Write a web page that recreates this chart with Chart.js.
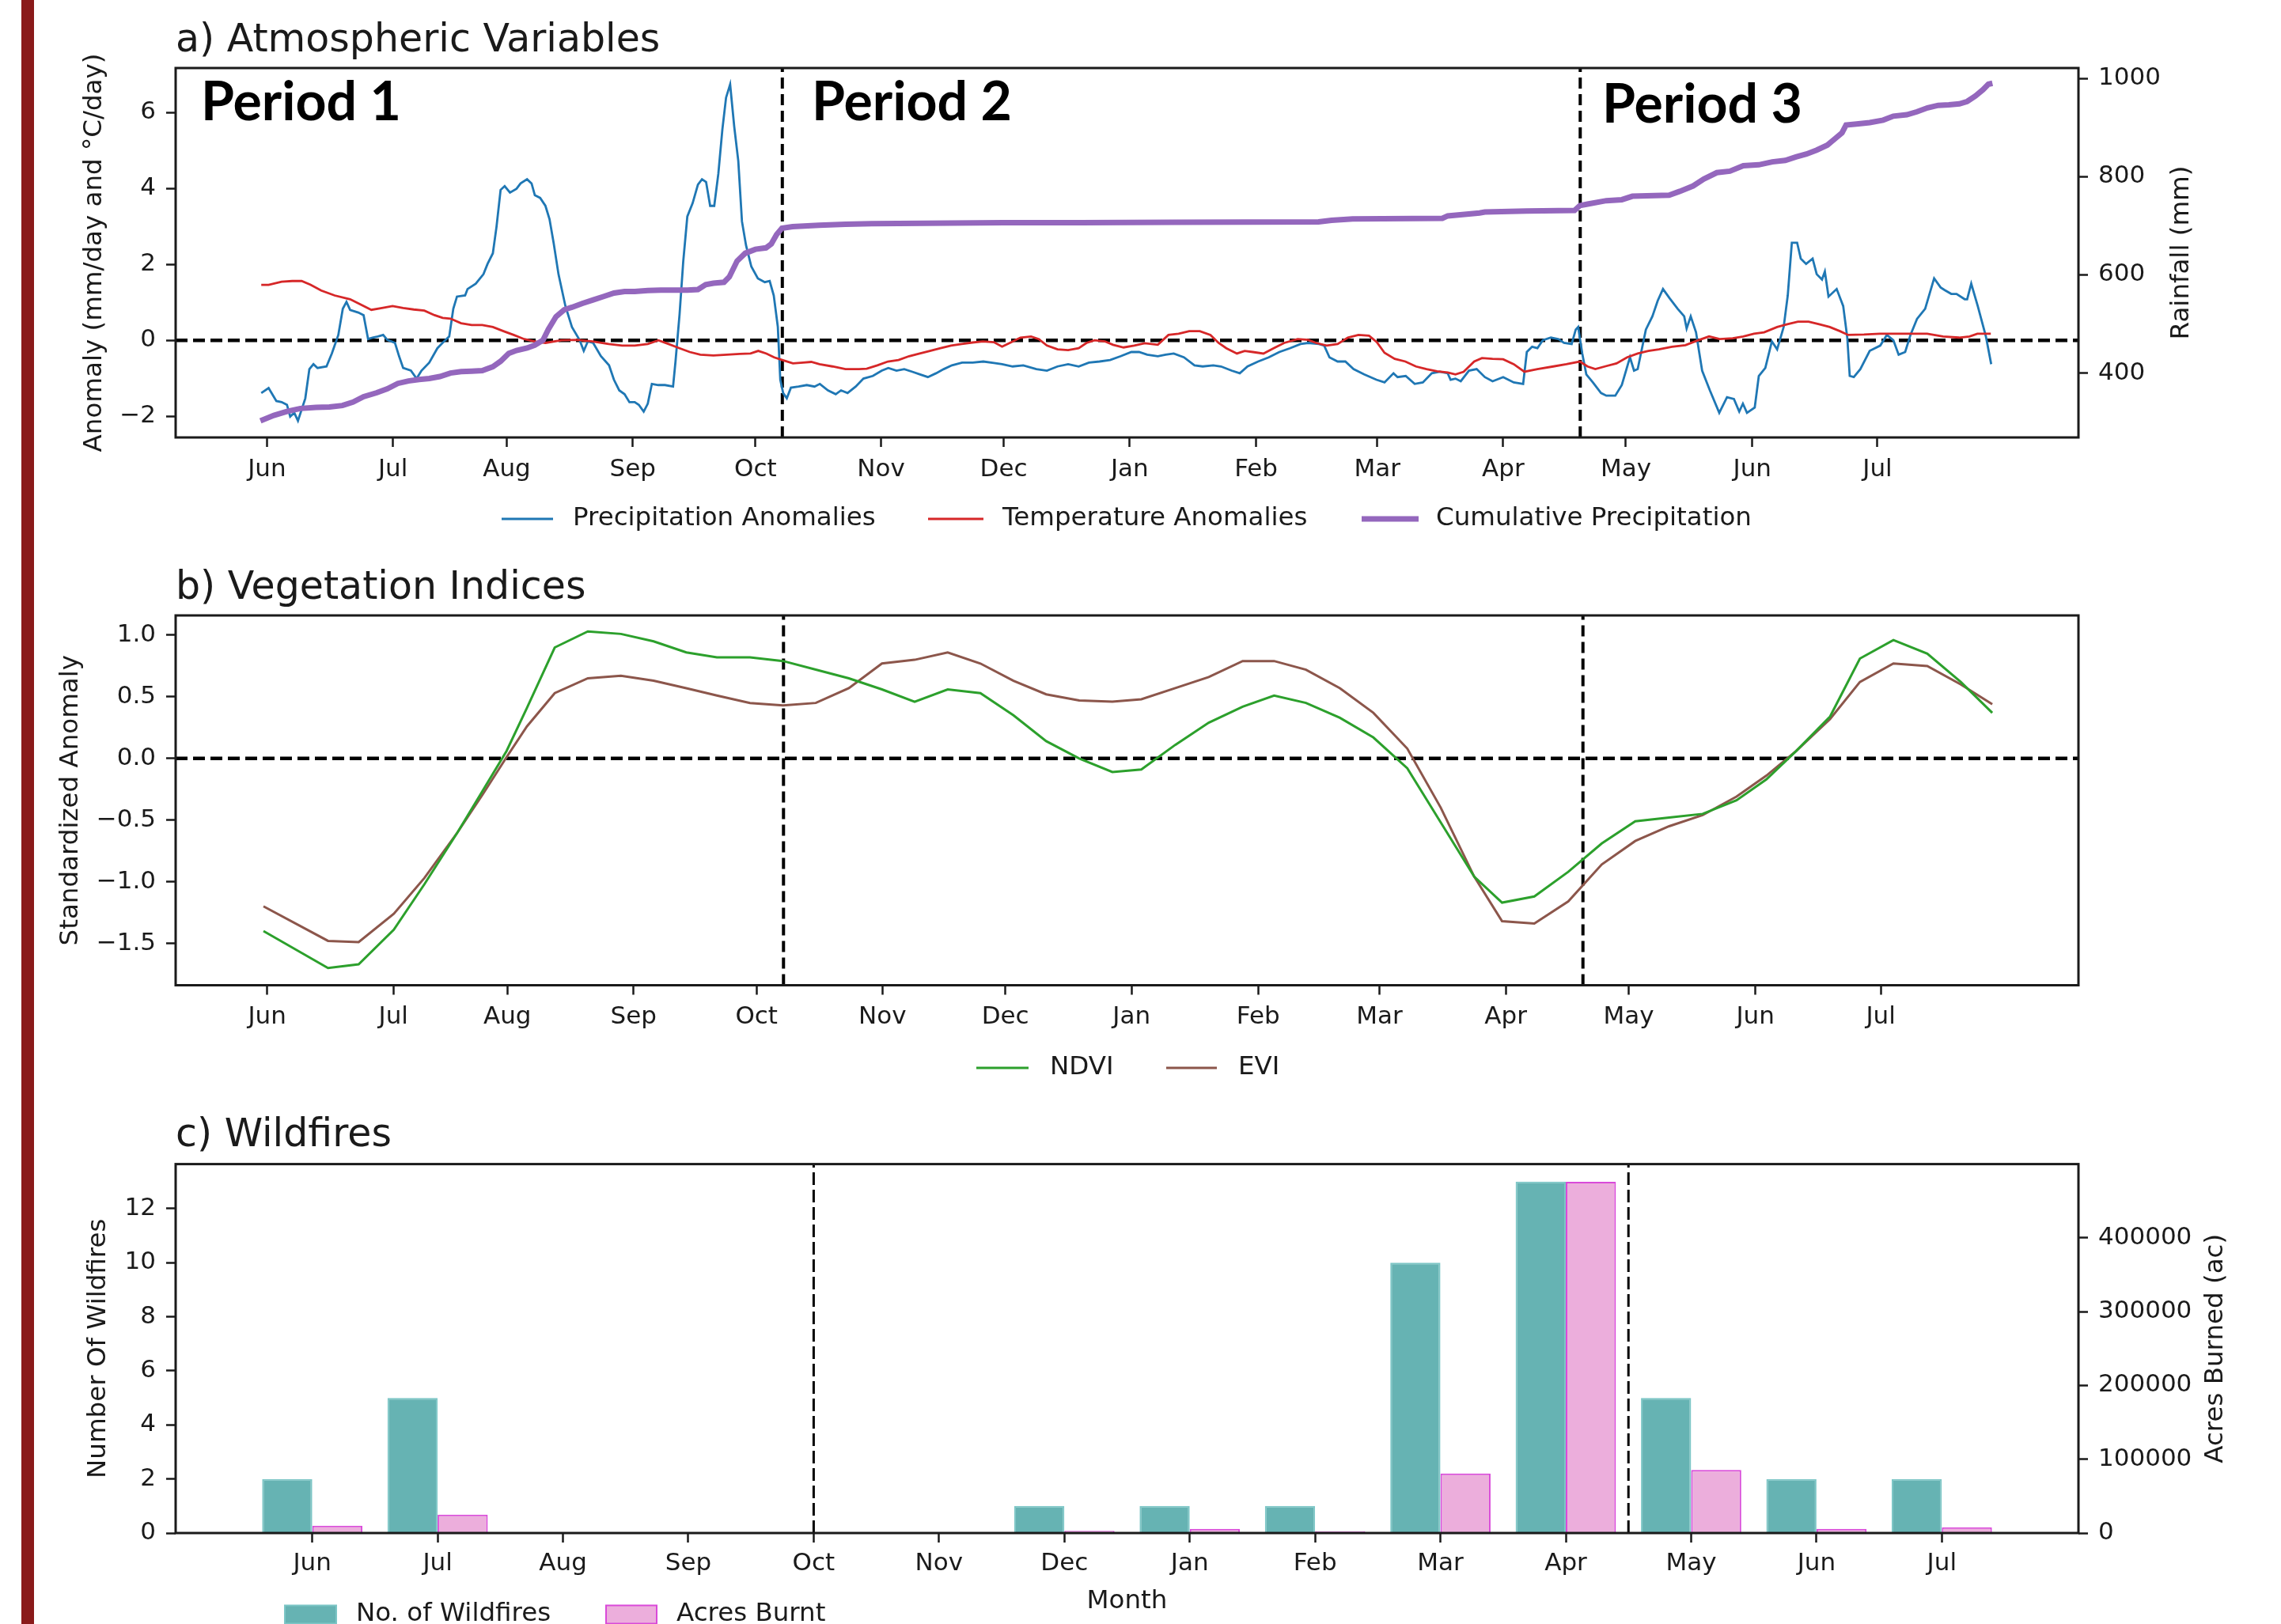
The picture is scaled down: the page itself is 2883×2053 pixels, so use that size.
<!DOCTYPE html>
<html>
<head>
<meta charset="utf-8">
<title>Atmospheric variables, vegetation indices and wildfires</title>
<script src="https://cdn.jsdelivr.net/npm/chart.js@4.4.1/dist/chart.umd.min.js"></script>
<style>
  html, body { margin: 0; padding: 0; background: #fff; }
  #page { position: relative; width: 2883px; height: 2053px; overflow: hidden; background: #fff; }
  #page canvas { position: absolute; left: 0; }
  #edge { position: absolute; left: 27px; top: 0; width: 16px; height: 2053px; background: #8a1a1a; }
</style>
</head>
<body>
<div id="page">
  <div id="edge"></div>
  <canvas id="atm" width="2883" height="700" style="top:0px"></canvas>
  <canvas id="veg" width="2883" height="700" style="top:700px"></canvas>
  <canvas id="fire" width="2883" height="653" style="top:1400px"></canvas>
</div>
<script>
// ---- month axis (day offsets counted from 1 June) ----
const monthNames = ['Jun', 'Jul', 'Aug', 'Sep', 'Oct', 'Nov', 'Dec', 'Jan', 'Feb', 'Mar', 'Apr', 'May', 'Jun', 'Jul'];
const monthTickDays = [0, 30.9, 58.8, 89.7, 119.8, 150.6, 180.7, 211.6, 242.6, 272.3, 303.2, 333.3, 364.3, 395.0];
const periodBreakDays = [126.4, 322.1];

// ---- a) precipitation anomalies (mm/day) ----
const precipDays = [-1.4, 0.4, 2.3, 3.6, 4.9, 5.7, 6.7, 7.6, 9.4, 10.4, 11.4, 12.4, 14.6, 15.9, 17.5, 18.6, 19.5, 20.4, 22.4, 23.7,
  24.8, 25.9, 27.2, 28.5, 29.5, 31.4, 32.4, 33.4, 35.3, 36.7, 37.9, 39.8, 41.8, 43.7, 44.7, 45.7, 46.6, 48.6, 49.2, 51.2,
  53.1, 54.1, 55.4, 56.3, 57.3, 58.3, 59.6, 61.2, 62.2, 63.8, 64.9, 65.7, 67.0, 68.3, 69.3, 70.3, 71.5, 73.2, 74.8, 76.7,
  77.7, 78.7, 80.0, 81.9, 83.9, 85.1, 86.4, 87.7, 88.9, 90.2, 91.2, 92.4, 93.4, 94.4, 96.0, 97.6, 99.6, 100.2, 101.2, 102.1,
  103.1, 104.4, 105.7, 106.7, 107.7, 108.7, 109.7, 110.7, 111.7, 112.6, 113.6, 114.6, 115.6, 116.5, 117.5, 118.8, 120.4, 122.1, 123.3, 124.3,
  125.3, 125.9, 126.6, 127.5, 128.5, 130.4, 132.4, 134.3, 135.6, 137.6, 139.5, 140.8, 142.4, 144.4, 146.3, 148.6, 150.8, 152.4, 154.4, 156.3,
  158.3, 160.2, 162.1, 164.1, 166.0, 168.0, 170.5, 173.1, 175.7, 178.3, 180.3, 182.9, 185.5, 188.7, 191.3, 193.9, 196.5, 199.1, 201.6, 204.2,
  206.8, 209.4, 212.0, 213.9, 215.9, 218.5, 220.4, 222.4, 224.9, 227.5, 229.5, 232.1, 234.0, 236.6, 238.6, 240.5, 243.1, 245.7, 248.3, 250.9,
  253.5, 255.4, 258.0, 259.3, 260.6, 262.6, 264.5, 266.5, 269.1, 272.1, 274.1, 276.3, 277.3, 279.3, 281.5, 283.5, 285.7, 287.7, 289.6, 290.3,
  291.5, 292.8, 294.8, 296.7, 298.7, 300.6, 303.2, 305.8, 308.1, 309.0, 310.3, 311.6, 312.9, 314.9, 316.8, 318.1, 320.0, 321.0, 321.6, 322.6,
  323.6, 325.2, 327.2, 328.5, 330.7, 332.3, 334.3, 335.3, 336.2, 338.2, 339.8, 341.1, 342.4, 344.0, 346.0, 347.6, 348.2, 349.2, 350.5, 352.0,
  353.9, 356.2, 358.1, 359.8, 361.1, 362.0, 363.0, 364.9, 365.9, 367.5, 369.1, 370.4, 372.0, 373.0, 374.0, 375.3, 376.2, 377.5, 379.1, 380.1,
  381.4, 382.1, 383.0, 385.0, 386.6, 387.6, 388.2, 389.2, 390.8, 393.1, 395.7, 397.3, 398.9, 400.2, 401.8, 403.1, 404.7, 406.7, 408.9, 410.5,
  411.5, 413.1, 414.4, 416.4, 417.0, 418.0, 419.6, 421.6, 422.9];
const precipAnom = [-1.39, -1.26, -1.60, -1.63, -1.70, -2.01, -1.91, -2.12, -1.53, -0.76, -0.63, -0.73, -0.69, -0.35, 0.14, 0.83, 1.01, 0.80, 0.73, 0.66,
  0.03, 0.07, 0.10, 0.14, 0.01, -0.07, -0.42, -0.73, -0.80, -1.01, -0.80, -0.59, -0.21, 0.00, 0.10, 0.83, 1.15, 1.18, 1.35, 1.49,
  1.74, 2.01, 2.29, 2.99, 3.96, 4.06, 3.89, 3.99, 4.13, 4.24, 4.13, 3.82, 3.75, 3.54, 3.19, 2.57, 1.74, 0.90, 0.35, 0.00,
  -0.28, -0.03, -0.07, -0.42, -0.66, -1.04, -1.32, -1.42, -1.63, -1.63, -1.70, -1.88, -1.67, -1.15, -1.18, -1.18, -1.22, -0.56, 0.69, 2.08,
  3.26, 3.61, 4.10, 4.24, 4.17, 3.54, 3.54, 4.38, 5.56, 6.39, 6.74, 5.63, 4.72, 3.13, 2.50, 1.94, 1.63, 1.53, 1.56, 1.18,
  0.35, -1.04, -1.39, -1.53, -1.25, -1.22, -1.18, -1.22, -1.15, -1.32, -1.42, -1.32, -1.39, -1.22, -1.01, -0.94, -0.80, -0.73, -0.80, -0.76,
  -0.83, -0.90, -0.97, -0.87, -0.76, -0.66, -0.59, -0.59, -0.56, -0.60, -0.63, -0.69, -0.66, -0.76, -0.80, -0.69, -0.63, -0.69, -0.59, -0.56,
  -0.52, -0.42, -0.31, -0.31, -0.38, -0.42, -0.38, -0.35, -0.45, -0.66, -0.69, -0.66, -0.69, -0.80, -0.87, -0.69, -0.56, -0.45, -0.31, -0.21,
  -0.10, -0.07, -0.10, -0.14, -0.45, -0.56, -0.56, -0.76, -0.90, -1.04, -1.11, -0.87, -0.97, -0.94, -1.15, -1.11, -0.87, -0.83, -0.87, -1.04,
  -1.01, -1.08, -0.80, -0.76, -0.97, -1.08, -0.97, -1.11, -1.15, -0.31, -0.17, -0.21, 0.00, 0.07, 0.03, -0.07, -0.10, 0.28, 0.35, -0.35,
  -0.90, -1.11, -1.39, -1.46, -1.46, -1.18, -0.45, -0.80, -0.76, 0.28, 0.63, 1.04, 1.35, 1.11, 0.83, 0.63, 0.31, 0.63, 0.21, -0.80,
  -1.32, -1.91, -1.50, -1.55, -1.88, -1.67, -1.91, -1.77, -0.94, -0.73, -0.03, -0.24, 0.35, 1.18, 2.57, 2.57, 2.15, 2.01, 2.15, 1.74,
  1.60, 1.81, 1.15, 1.35, 0.90, 0.07, -0.94, -0.97, -0.76, -0.28, -0.14, 0.14, 0.00, -0.38, -0.31, 0.14, 0.56, 0.83, 1.63, 1.39,
  1.32, 1.22, 1.22, 1.08, 1.08, 1.49, 0.90, 0.10, -0.63];

// ---- a) temperature anomalies (°C/day) ----
const tempDays = [-1.4, 0.4, 3.6, 6.2, 8.5, 10.7, 13.3, 16.6, 20.4, 23.0, 25.6, 28.2, 30.8, 33.4, 36.0, 38.6, 41.1, 43.1, 45.0, 47.6,
  50.2, 52.8, 55.4, 58.0, 60.5, 63.1, 65.7, 68.3, 72.2, 76.1, 79.9, 83.8, 87.1, 90.2, 93.4, 96.0, 98.5, 101.2, 103.7, 106.3,
  109.5, 112.8, 116.0, 118.6, 120.5, 122.5, 124.4, 126.4, 129.0, 131.5, 133.5, 135.5, 138.7, 141.9, 145.2, 147.1, 149.7, 152.3, 154.9, 157.5,
  160.1, 162.6, 165.2, 167.8, 170.4, 173.0, 175.6, 178.3, 180.3, 182.2, 184.8, 187.4, 189.3, 191.3, 193.9, 196.5, 199.1, 201.0, 203.0, 205.5,
  207.5, 210.1, 212.7, 215.3, 218.5, 221.1, 223.6, 226.2, 228.8, 231.4, 233.4, 235.3, 237.9, 239.8, 241.8, 244.4, 246.9, 249.5, 252.8, 255.4,
  257.3, 259.9, 262.6, 265.1, 267.7, 270.3, 272.2, 274.1, 276.6, 279.2, 281.8, 284.4, 287.0, 289.6, 291.5, 293.5, 296.1, 298.0, 300.6, 303.2,
  305.8, 308.4, 311.6, 315.5, 318.7, 322.0, 323.9, 325.8, 328.5, 331.0, 333.6, 336.2, 338.8, 341.4, 344.6, 347.9, 350.5, 353.7, 356.3, 359.5,
  362.1, 364.7, 367.2, 370.4, 372.9, 375.5, 378.1, 380.7, 383.3, 385.8, 387.8, 391.7, 395.6, 399.5, 403.4, 407.2, 411.1, 415.0, 417.6, 419.5,
  422.8];
const tempAnom = [1.46, 1.46, 1.54, 1.56, 1.56, 1.46, 1.31, 1.18, 1.08, 0.94, 0.80, 0.85, 0.90, 0.85, 0.81, 0.78, 0.66, 0.59, 0.57, 0.45,
  0.40, 0.40, 0.35, 0.24, 0.14, 0.03, -0.03, -0.07, 0.00, 0.01, -0.03, -0.10, -0.14, -0.14, -0.10, 0.00, -0.10, -0.21, -0.31, -0.38,
  -0.40, -0.38, -0.36, -0.35, -0.28, -0.35, -0.45, -0.52, -0.61, -0.59, -0.57, -0.63, -0.69, -0.76, -0.76, -0.75, -0.66, -0.56, -0.52, -0.42,
  -0.35, -0.28, -0.21, -0.14, -0.10, -0.06, -0.03, -0.05, -0.17, -0.07, 0.07, 0.10, 0.03, -0.14, -0.24, -0.26, -0.21, -0.07, 0.00, -0.03,
  -0.12, -0.19, -0.14, -0.08, -0.12, 0.14, 0.17, 0.24, 0.24, 0.14, -0.07, -0.21, -0.35, -0.28, -0.31, -0.35, -0.21, -0.07, 0.03, 0.01,
  -0.07, -0.14, -0.10, 0.07, 0.14, 0.12, -0.05, -0.33, -0.49, -0.56, -0.69, -0.76, -0.82, -0.85, -0.90, -0.83, -0.56, -0.47, -0.49, -0.50,
  -0.63, -0.83, -0.76, -0.69, -0.63, -0.56, -0.69, -0.76, -0.68, -0.61, -0.45, -0.35, -0.28, -0.24, -0.17, -0.13, -0.02, 0.10, 0.03, 0.05,
  0.10, 0.17, 0.21, 0.35, 0.42, 0.49, 0.49, 0.42, 0.35, 0.24, 0.14, 0.15, 0.17, 0.17, 0.17, 0.17, 0.10, 0.07, 0.10, 0.17,
  0.17];

// ---- a) cumulative precipitation (mm) ----
const cumDays = [-1.6, 1.7, 4.9, 8.2, 12.0, 15.3, 18.5, 21.1, 23.7, 26.9, 29.5, 32.1, 34.7, 37.3, 39.8, 42.4, 45.0, 47.6, 50.2, 52.8,
  55.4, 57.3, 59.3, 61.2, 63.8, 65.7, 67.7, 69.0, 70.9, 72.9, 74.8, 77.4, 80.0, 82.6, 85.1, 87.7, 90.2, 93.4, 96.6, 103.1,
  105.7, 107.6, 109.5, 112.1, 113.4, 115.3, 117.3, 119.8, 122.4, 123.7, 125.0, 126.3, 128.9, 135.4, 141.9, 148.3, 161.3, 180.7, 199.6, 222.3,
  257.9, 261.1, 266.3, 288.3, 289.6, 297.4, 298.7, 309.0, 320.7, 322.0, 323.9, 328.5, 332.3, 334.9, 343.9, 346.5, 349.8, 352.4, 355.6, 358.8,
  362.1, 365.9, 369.2, 372.4, 375.0, 377.6, 380.1, 382.7, 384.7, 386.3, 387.3, 389.9, 393.1, 396.4, 398.9, 402.2, 404.7, 407.3, 409.9, 412.5,
  415.1, 417.0, 419.0, 420.9, 422.2, 423.2];
const cumRain = [303, 314, 322, 328, 330, 331, 334, 341, 352, 360, 368, 379, 384, 387, 389, 393, 400, 403, 404, 405,
  413, 424, 440, 446, 451, 457, 467, 489, 515, 529, 534, 542, 549, 556, 563, 566, 566, 568, 569, 569,
  570, 580, 583, 585, 596, 628, 644, 652, 655, 663, 682, 695, 698, 701, 703, 704, 705, 706, 706, 707,
  708, 711, 714, 715, 720, 726, 728, 730, 731, 741, 744, 751, 753, 760, 762, 770, 781, 795, 808, 811,
  822, 824, 830, 833, 840, 846, 854, 864, 878, 889, 905, 907, 910, 915, 923, 926, 932, 940, 945, 946,
  948, 953, 964, 977, 988, 990];

// ---- b) vegetation indices (standardized anomaly) ----
const vegDays = [-0.9, 14.9, 22.4, 31.0, 38.5, 46.6, 52.8, 58.6, 63.6, 70.4, 78.5, 86.6, 94.6, 102.6, 110.1, 118.2, 126.3, 134.3, 142.4, 150.5,
  158.5, 166.6, 174.6, 182.7, 190.7, 198.8, 206.9, 214.0, 222.3, 230.5, 238.8, 246.5, 254.3, 262.6, 270.8, 279.1, 287.3, 295.5, 302.3, 310.2,
  318.5, 326.7, 334.9, 343.2, 351.4, 359.7, 367.0, 374.3, 382.6, 389.9, 398.1, 406.4, 414.6, 422.3];
const ndvi = [-1.40, -1.70, -1.67, -1.39, -1.02, -0.60, -0.26, 0.06, 0.41, 0.90, 1.03, 1.01, 0.95, 0.86, 0.82, 0.82, 0.79, 0.72, 0.65, 0.56,
  0.46, 0.56, 0.53, 0.35, 0.14, 0.00, -0.11, -0.09, 0.11, 0.29, 0.42, 0.51, 0.45, 0.33, 0.17, -0.08, -0.52, -0.96, -1.17, -1.12,
  -0.92, -0.69, -0.51, -0.48, -0.45, -0.34, -0.17, 0.06, 0.34, 0.81, 0.96, 0.85, 0.62, 0.37];
const evi = [-1.20, -1.48, -1.49, -1.26, -0.97, -0.60, -0.29, 0.01, 0.26, 0.53, 0.65, 0.67, 0.63, 0.57, 0.51, 0.45, 0.43, 0.45, 0.57, 0.77,
  0.80, 0.86, 0.77, 0.63, 0.52, 0.47, 0.46, 0.48, 0.57, 0.66, 0.79, 0.79, 0.72, 0.57, 0.37, 0.08, -0.40, -0.96, -1.32, -1.34,
  -1.16, -0.86, -0.67, -0.55, -0.46, -0.31, -0.14, 0.06, 0.32, 0.62, 0.77, 0.75, 0.60, 0.44];

// ---- c) wildfires per month ----
const fireMonths = ['Jun', 'Jul', 'Aug', 'Sep', 'Oct', 'Nov', 'Dec', 'Jan', 'Feb', 'Mar', 'Apr', 'May', 'Jun', 'Jul'];
const fireCounts = [2, 5, 0, 0, 0, 0, 1, 1, 1, 10, 13, 5, 2, 2];
const acresBurnt = [10000, 25000, 0, 0, 0, 0, 3000, 5500, 2400, 80600, 476000, 85500, 5500, 7700];
const firePeriodBreaks = [4, 10.5];

// ---- tick values ----
const anomalyTicks = [-2, 0, 2, 4, 6];
const rainfallTicks = [400, 600, 800, 1000];
const vegTicks = [-1.5, -1.0, -0.5, 0.0, 0.5, 1.0];
const countTicks = [0, 2, 4, 6, 8, 10, 12];
const acreTicks = [0, 100000, 200000, 300000, 400000];

// ---------------------------------------------------------------
const INK = '#1a1a1a';
const LABEL_SIZE = 32.5;
Chart.defaults.font.family = "'DejaVu Sans', sans-serif";
Chart.defaults.color = INK;
Chart.defaults.animation = false;

const pts = (xs, ys) => xs.map((x, i) => ({ x: x, y: ys[i] }));
const withMinus = s => String(s).replace('-', '\u2212');
const fixedTicks = values => scale => { scale.ticks = values.map(v => ({ value: v })); };

function tickGrid() {
  return { drawOnChartArea: false, drawTicks: true, tickLength: 12, tickWidth: 2.5, tickColor: INK, offset: false };
}
function refLine(points, yAxisID, width, dash) {
  return {
    type: 'line', data: points, yAxisID: yAxisID, borderColor: '#000', borderWidth: width,
    borderDash: dash, pointRadius: 0, tension: 0, fill: false, order: 10
  };
}
function vBreaks(xs, yMin, yMax, yAxisID, width, dash) {
  return xs.map(x => refLine([{ x: x, y: yMin }, { x: x, y: yMax }], yAxisID, width, dash));
}

// frame, panel title, period captions, right-hand axis title and legend
const panelDecor = {
  id: 'panelDecor',
  afterDatasetsDraw(chart, args, o) {
    const { ctx, chartArea: a } = chart;
    ctx.save();
    ctx.strokeStyle = INK;
    ctx.lineWidth = 3;
    ctx.strokeRect(a.left, a.top, a.right - a.left, a.bottom - a.top);
    ctx.restore();
  },
  afterDraw(chart, args, o) {
    const { ctx, chartArea: a } = chart;
    ctx.save();
    ctx.fillStyle = INK;
    ctx.textAlign = 'left';
    ctx.textBaseline = 'alphabetic';
    ctx.font = "49px 'DejaVu Sans'";
    ctx.fillText(o.title, a.left, o.titleY);

    if (o.periods) {
      ctx.fillStyle = '#000';
      ctx.font = "bold 68px Lato";
      o.periods.forEach(p => ctx.fillText(p.text, p.x, p.y));
    }

    if (o.rightTitle) {
      ctx.fillStyle = INK;
      ctx.font = LABEL_SIZE + "px 'DejaVu Sans'";
      ctx.translate(o.rightTitle.x, (a.top + a.bottom) / 2);
      ctx.rotate(-Math.PI / 2);
      ctx.textAlign = 'center';
      ctx.textBaseline = 'middle';
      ctx.fillText(o.rightTitle.text, 0, 0);
      ctx.setTransform(1, 0, 0, 1, 0, 0);
    }

    ctx.font = LABEL_SIZE + "px 'DejaVu Sans'";
    ctx.textAlign = 'left';
    ctx.textBaseline = 'middle';
    o.legend.forEach(it => {
      if (it.kind === 'line') {
        ctx.strokeStyle = it.color;
        ctx.lineWidth = it.width;
        ctx.setLineDash([]);
        ctx.beginPath();
        ctx.moveTo(it.x0, o.legendY);
        ctx.lineTo(it.x1, o.legendY);
        ctx.stroke();
      } else {
        ctx.fillStyle = it.fill;
        ctx.fillRect(it.x0, o.legendY - 11.5, it.x1 - it.x0, 23);
        ctx.strokeStyle = it.stroke;
        ctx.lineWidth = 2;
        ctx.strokeRect(it.x0, o.legendY - 11.5, it.x1 - it.x0, 23);
      }
      ctx.fillStyle = INK;
      ctx.fillText(it.label, it.textX, o.legendY);
    });
    ctx.restore();
  }
};

// ---------------- a) Atmospheric Variables ----------------
const atmRange = { xMin: -22.4, xMax: 444.3, yMin: -2.56, yMax: 7.17, rMin: 269, rMax: 1021 };
new Chart(document.getElementById('atm'), {
  type: 'line',
  data: {
    datasets: [
      { label: 'Cumulative Precipitation', data: pts(cumDays, cumRain), yAxisID: 'y2', borderColor: '#9467bd', borderWidth: 7, pointRadius: 0, tension: 0, order: 0 },
      { label: 'Temperature Anomalies', data: pts(tempDays, tempAnom), yAxisID: 'y', borderColor: '#d62728', borderWidth: 2.8, pointRadius: 0, tension: 0, order: 1 },
      { label: 'Precipitation Anomalies', data: pts(precipDays, precipAnom), yAxisID: 'y', borderColor: '#1f77b4', borderWidth: 2.8, pointRadius: 0, tension: 0, order: 2 },
      refLine([{ x: atmRange.xMin, y: 0 }, { x: atmRange.xMax, y: 0 }], 'y', 4.5, [15, 7]),
      ...vBreaks(periodBreakDays, atmRange.yMin, atmRange.yMax, 'y', 4, [14, 7])
    ]
  },
  options: {
    responsive: false, maintainAspectRatio: false,
    layout: { padding: { top: 86, left: 0, right: 0, bottom: 0 } },
    plugins: {
      legend: { display: false }, tooltip: { enabled: false },
      panelDecor: {
        title: 'a) Atmospheric Variables', titleY: 65,
        periods: [{ text: 'Period 1', x: 254, y: 152 }, { text: 'Period 2', x: 1026, y: 152 }, { text: 'Period 3', x: 2025, y: 155 }],
        rightTitle: { text: 'Rainfall (mm)', x: 2758 },
        legendY: 656,
        legend: [
          { kind: 'line', x0: 634, x1: 699, color: '#1f77b4', width: 2.8, label: 'Precipitation Anomalies', textX: 724 },
          { kind: 'line', x0: 1173, x1: 1243, color: '#d62728', width: 2.8, label: 'Temperature Anomalies', textX: 1267 },
          { kind: 'line', x0: 1721, x1: 1793, color: '#9467bd', width: 7, label: 'Cumulative Precipitation', textX: 1815 }
        ]
      }
    },
    scales: {
      x: {
        type: 'linear', position: 'bottom', min: atmRange.xMin, max: atmRange.xMax, offset: false,
        afterBuildTicks: fixedTicks(monthTickDays),
        afterFit: s => { s.height = 147; },
        grid: tickGrid(), border: { display: false },
        ticks: { autoSkip: false, maxRotation: 0, padding: 10, font: { size: 31 }, callback: (v, i) => monthNames[i] }
      },
      y: {
        type: 'linear', position: 'left', min: atmRange.yMin, max: atmRange.yMax,
        afterBuildTicks: fixedTicks(anomalyTicks),
        afterFit: s => { s.width = 222; },
        grid: tickGrid(), border: { display: false },
        ticks: { padding: 13, font: { size: 31 }, callback: v => withMinus(v) },
        title: { display: true, text: 'Anomaly (mm/day and \u00B0C/day)', font: { size: LABEL_SIZE }, padding: { top: 100, bottom: 0 } }
      },
      y2: {
        type: 'linear', position: 'right', min: atmRange.rMin, max: atmRange.rMax,
        afterBuildTicks: fixedTicks(rainfallTicks),
        afterFit: s => { s.width = 256; },
        grid: tickGrid(), border: { display: false },
        ticks: { padding: 13, font: { size: 31 }, callback: v => String(v) }
      }
    }
  },
  plugins: [panelDecor]
});

// ---------------- b) Vegetation Indices ----------------
const vegRange = { xMin: -22.4, xMax: 443.4, yMin: -1.84, yMax: 1.16 };
new Chart(document.getElementById('veg'), {
  type: 'line',
  data: {
    datasets: [
      { label: 'NDVI', data: pts(vegDays, ndvi), yAxisID: 'y', borderColor: '#2ca02c', borderWidth: 3, pointRadius: 0, tension: 0, order: 0 },
      { label: 'EVI', data: pts(vegDays, evi), yAxisID: 'y', borderColor: '#8c564b', borderWidth: 3, pointRadius: 0, tension: 0, order: 1 },
      refLine([{ x: vegRange.xMin, y: 0 }, { x: vegRange.xMax, y: 0 }], 'y', 4.5, [15, 7]),
      ...vBreaks(periodBreakDays, vegRange.yMin, vegRange.yMax, 'y', 4, [14, 7])
    ]
  },
  options: {
    responsive: false, maintainAspectRatio: false,
    layout: { padding: { top: 78, left: 0, right: 256, bottom: 0 } },
    plugins: {
      legend: { display: false }, tooltip: { enabled: false },
      panelDecor: {
        title: 'b) Vegetation Indices', titleY: 57,
        legendY: 650,
        legend: [
          { kind: 'line', x0: 1234, x1: 1300, color: '#2ca02c', width: 3, label: 'NDVI', textX: 1327 },
          { kind: 'line', x0: 1474, x1: 1538, color: '#8c564b', width: 3, label: 'EVI', textX: 1565 }
        ]
      }
    },
    scales: {
      x: {
        type: 'linear', position: 'bottom', min: vegRange.xMin, max: vegRange.xMax, offset: false,
        afterBuildTicks: fixedTicks(monthTickDays),
        afterFit: s => { s.height = 154.5; },
        grid: tickGrid(), border: { display: false },
        ticks: { autoSkip: false, maxRotation: 0, padding: 10, font: { size: 31 }, callback: (v, i) => monthNames[i] }
      },
      y: {
        type: 'linear', position: 'left', min: vegRange.yMin, max: vegRange.yMax,
        afterBuildTicks: fixedTicks(vegTicks),
        afterFit: s => { s.width = 222; },
        grid: tickGrid(), border: { display: false },
        ticks: { padding: 13, font: { size: 31 }, callback: v => withMinus(Number(v).toFixed(1)) },
        title: { display: true, text: 'Standardized Anomaly', font: { size: LABEL_SIZE }, padding: { top: 70, bottom: 0 } }
      }
    }
  },
  plugins: [panelDecor]
});

// ---------------- c) Wildfires ----------------
const fireRange = { xMin: -1.09, xMax: 14.09, yMin: 0, yMax: 13.65, rMin: 0, rMax: 500000 };
new Chart(document.getElementById('fire'), {
  type: 'bar',
  data: {
    datasets: [
      { label: 'No. of Wildfires', data: pts(fireMonths.map((m, i) => i), fireCounts), yAxisID: 'y',
        backgroundColor: '#66b3b3', borderColor: '#7cc6c6', borderWidth: 2, order: 1 },
      { label: 'Acres Burnt', data: pts(fireMonths.map((m, i) => i), acresBurnt), yAxisID: 'y2',
        backgroundColor: '#ecaedc', borderColor: '#d94ad9', borderWidth: 2, order: 2 },
      ...vBreaks(firePeriodBreaks, fireRange.yMin, fireRange.yMax, 'y', 3, [16, 6])
    ]
  },
  options: {
    responsive: false, maintainAspectRatio: false,
    categoryPercentage: 0.8, barPercentage: 1.0,
    layout: { padding: { top: 71.6, left: 0, right: 0, bottom: 0 } },
    plugins: {
      legend: { display: false }, tooltip: { enabled: false },
      panelDecor: {
        title: 'c) Wildfires', titleY: 49,
        rightTitle: { text: 'Acres Burned (ac)', x: 2801 },
        legendY: 641,
        legend: [
          { kind: 'patch', x0: 360, x1: 425, fill: '#66b3b3', stroke: '#7cc6c6', label: 'No. of Wildfires', textX: 450 },
          { kind: 'patch', x0: 766, x1: 830, fill: '#ecaedc', stroke: '#d94ad9', label: 'Acres Burnt', textX: 855 }
        ]
      }
    },
    scales: {
      x: {
        type: 'linear', position: 'bottom', min: fireRange.xMin, max: fireRange.xMax, offset: false,
        afterBuildTicks: fixedTicks(fireMonths.map((m, i) => i)),
        afterFit: s => { s.height = 115; },
        grid: tickGrid(), border: { display: false },
        ticks: { autoSkip: false, maxRotation: 0, padding: 8, font: { size: 31 }, callback: (v, i) => fireMonths[i] },
        title: { display: true, text: 'Month', font: { size: LABEL_SIZE }, padding: { top: 0, bottom: 9 } }
      },
      y: {
        type: 'linear', position: 'left', min: fireRange.yMin, max: fireRange.yMax,
        afterBuildTicks: fixedTicks(countTicks),
        afterFit: s => { s.width = 222; },
        grid: tickGrid(), border: { display: false },
        ticks: { padding: 13, font: { size: 31 }, callback: v => String(v) },
        title: { display: true, text: 'Number Of Wildfires', font: { size: LABEL_SIZE }, padding: { top: 105, bottom: 0 } }
      },
      y2: {
        type: 'linear', position: 'right', min: fireRange.rMin, max: fireRange.rMax,
        afterBuildTicks: fixedTicks(acreTicks),
        afterFit: s => { s.width = 256; },
        grid: tickGrid(), border: { display: false },
        ticks: { padding: 13, font: { size: 31 }, callback: v => String(v) }
      }
    }
  },
  plugins: [panelDecor]
});
</script>
</body>
</html>
